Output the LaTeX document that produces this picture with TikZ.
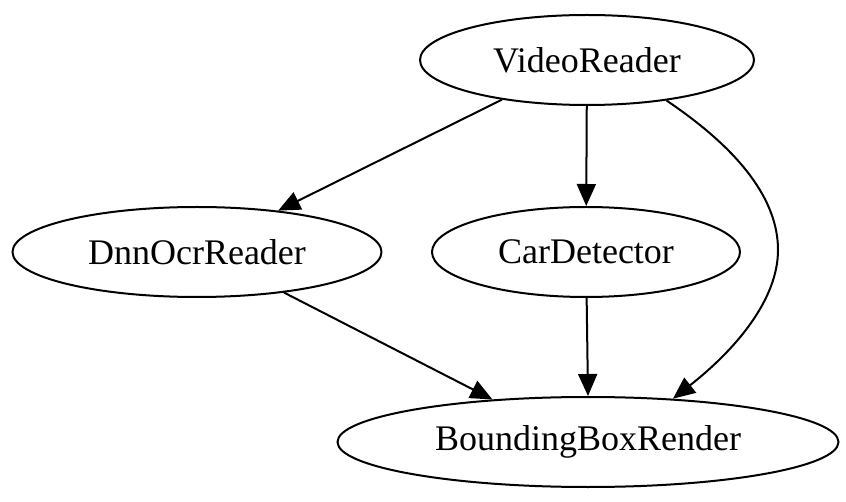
\documentclass[tikz,border=0pt]{standalone}
\usepackage{fontspec}
\setmainfont{Liberation Serif}
\usetikzlibrary{shapes.geometric,arrows.meta}
\begin{document}
\begin{tikzpicture}[x=1pt,y=1pt,
  gnode/.style={draw,ellipse,line width=2pt,inner sep=0pt,font=\fontsize{36}{40}\selectfont},
  edge/.style={line width=2pt,-{Triangle[length=22pt,width=19pt]}}]
\useasboundingbox (0,0) rectangle (846,-502);
\node[gnode,minimum width=334pt,minimum height=90pt] (vr) at (587,-60) {VideoReader};
\node[gnode,minimum width=369pt,minimum height=90pt] (dnn) at (197,-252) {DnnOcrReader};
\node[gnode,minimum width=308pt,minimum height=90pt] (car) at (586,-252) {CarDetector};
\node[gnode,minimum width=501pt,minimum height=90pt] (bbr) at (588,-442) {BoundingBoxRender};
\draw[edge] (vr.-155) -- (dnn.27);
\draw[edge] (vr) -- (car);
\draw[edge] (vr.-27) .. controls (740,-150) and (778,-200) .. (778,-250) .. controls (778,-300) and (735,-350) .. (bbr.27);
\draw[edge] (dnn.-25) -- (bbr.156);
\draw[edge] (car) -- (bbr.90);
\end{tikzpicture}
\end{document}
